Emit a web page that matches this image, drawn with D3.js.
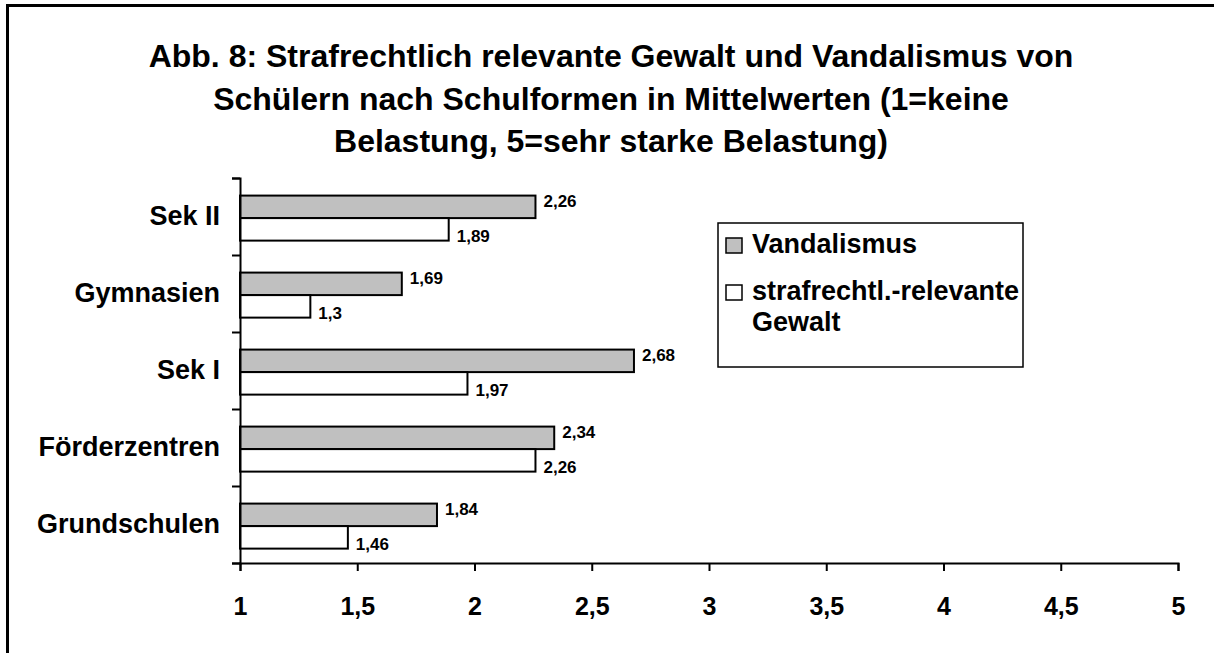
<!DOCTYPE html>
<html>
<head>
<meta charset="utf-8">
<script src="https://cdn.jsdelivr.net/npm/d3@7"></script>
<style>
  body { margin: 0; background: #fff; }
  svg { display: block; font-family: "Liberation Sans", Arial, sans-serif; font-weight: bold; }
  .axis path, .axis line { stroke: #000; stroke-width: 2px; }
  .axis text { fill: #000; font-weight: bold; }
</style>
</head>
<body>
<div id="chart"></div>
<script>
const titleLines = [
  'Abb. 8: Strafrechtlich relevante Gewalt und Vandalismus von',
  'Schülern nach Schulformen in Mittelwerten (1=keine',
  'Belastung, 5=sehr starke Belastung)'
];
const categories = ['Sek II', 'Gymnasien', 'Sek I', 'Förderzentren', 'Grundschulen'];
const seriesNames = ['Vandalismus', 'strafrechtl.-relevante Gewalt'];
const vandalismus = [2.26, 1.69, 2.68, 2.34, 1.84];
const gewalt = [1.89, 1.3, 1.97, 2.26, 1.46];
const xTicks = [1, 1.5, 2, 2.5, 3, 3.5, 4, 4.5, 5];

const width = 1214, height = 653;
const colors = ['#c0c0c0', '#ffffff'];
const comma = v => String(v).replace('.', ',');

const svg = d3.select('#chart').append('svg')
    .attr('width', width)
    .attr('height', height);

// frame (only left and top edges visible in the picture)
svg.append('rect')
    .attr('x', 7.5).attr('y', 5.5)
    .attr('width', 1400).attr('height', 800)
    .attr('fill', 'none')
    .attr('stroke', '#000')
    .attr('stroke-width', 3);

// title
svg.append('g').selectAll('text')
    .data(titleLines)
    .join('text')
    .attr('x', 611)
    .attr('y', (d, i) => 67 + i * 42.5)
    .attr('text-anchor', 'middle')
    .style('font-size', '32px')
    .text(d => d);

const plot = { left: 240, right: 1178, top: 178, bottom: 563 };

const x = d3.scaleLinear().domain([1, 5]).range([plot.left, plot.right]);
const y = d3.scaleBand().domain(categories).range([plot.top, plot.bottom]);
const yInner = d3.scaleBand().domain(seriesNames)
    .range([0, y.bandwidth()])
    .paddingOuter(0.71).align(0.55);
const yEdges = d3.scaleLinear().domain([0, categories.length]).range([plot.top, plot.bottom]);

// bars
const rows = categories.map((c, i) => ({ cat: c, values: [vandalismus[i], gewalt[i]] }));

const groups = svg.append('g').selectAll('g')
    .data(rows)
    .join('g')
    .attr('transform', d => 'translate(0,' + y(d.cat) + ')');

groups.selectAll('rect')
    .data(d => d.values.map((v, j) => ({ v: v, s: seriesNames[j], j: j })))
    .join('rect')
    .attr('x', x(1))
    .attr('y', d => yInner(d.s))
    .attr('width', d => x(d.v) - x(1))
    .attr('height', yInner.bandwidth())
    .attr('fill', d => colors[d.j])
    .attr('stroke', '#000')
    .attr('stroke-width', 2);

groups.selectAll('text')
    .data(d => d.values.map((v, j) => ({ v: v, s: seriesNames[j], j: j })))
    .join('text')
    .attr('x', d => x(d.v) + 8)
    .attr('y', d => yInner(d.s) + yInner.bandwidth() / 2 + (d.j === 0 ? -5.5 : 7))
    .attr('dy', '0.35em')
    .style('font-size', '17px')
    .text(d => comma(d.v));

// y axis: boundary ticks
svg.append('g')
    .attr('class', 'axis')
    .attr('transform', 'translate(' + plot.left + ',0)')
    .call(d3.axisLeft(yEdges).ticks(categories.length).tickSize(8).tickFormat(''));

// y axis: category labels
const yLab = svg.append('g')
    .attr('class', 'axis')
    .attr('transform', 'translate(' + plot.left + ',0)')
    .call(d3.axisLeft(y).tickSize(0).tickPadding(20));
yLab.select('.domain').remove();
yLab.selectAll('text').style('font-size', '27px');

// x axis
const xAxis = svg.append('g')
    .attr('class', 'axis')
    .attr('transform', 'translate(0,' + plot.bottom + ')')
    .call(d3.axisBottom(x).tickValues(xTicks).tickSize(8).tickPadding(26).tickFormat(comma));
xAxis.selectAll('text').style('font-size', '25px');

// legend
const legend = svg.append('g').attr('transform', 'translate(718,223)');
legend.append('rect')
    .attr('width', 305).attr('height', 144)
    .attr('fill', '#fff')
    .attr('stroke', '#000')
    .attr('stroke-width', 1.5);

const legendItems = [
  { lines: ['Vandalismus'], y: 15 },
  { lines: ['strafrechtl.-relevante', 'Gewalt'], y: 62 }
];
legendItems.forEach((item, i) => {
  legend.append('rect')
      .attr('x', 8).attr('y', item.y)
      .attr('width', 16).attr('height', 15)
      .attr('fill', colors[i])
      .attr('stroke', '#000')
      .attr('stroke-width', 1.5);
  legend.append('g').selectAll('text')
      .data(item.lines)
      .join('text')
      .attr('x', 34)
      .attr('y', (d, k) => item.y + 15 + k * 31)
      .style('font-size', '27px')
      .text(d => d);
});
</script>
</body>
</html>
